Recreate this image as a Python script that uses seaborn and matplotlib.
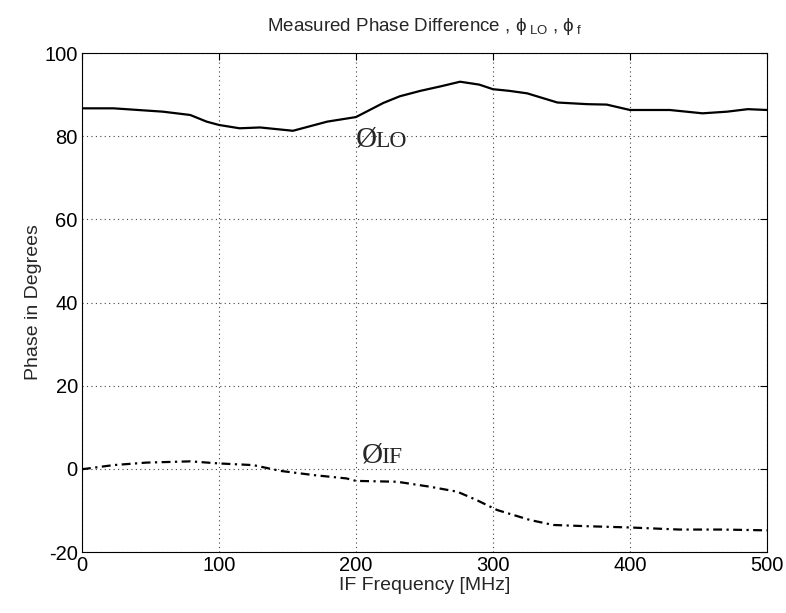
import numpy as np
import pandas as pd
import matplotlib
matplotlib.use("Agg")
import matplotlib.pyplot as plt
import seaborn as sns

freq_lo = [0, 23, 59, 79, 91, 100, 115, 130, 154, 179, 200, 220, 232, 247, 262, 276, 290, 300, 312, 325, 347, 369, 383, 400, 429, 453, 471, 486, 500]
phase_lo = [86.7, 86.7, 85.9, 85.1, 83.5, 82.7, 81.9, 82.1, 81.3, 83.5, 84.6, 88.0, 89.6, 90.9, 92.0, 93.1, 92.4, 91.3, 90.9, 90.3, 88.1, 87.7, 87.6, 86.3, 86.3, 85.5, 85.9, 86.5, 86.3]

freq_if = [0, 23, 47, 79, 100, 125, 145, 169, 193, 200, 230, 254, 274, 288, 303, 327, 344, 369, 400, 436, 466, 486, 500]
phase_if = [-0.1, 0.9, 1.5, 1.8, 1.3, 0.9, -0.5, -1.5, -2.3, -2.9, -3.1, -4.3, -5.5, -7.5, -9.9, -12.3, -13.5, -13.8, -14.1, -14.6, -14.6, -14.7, -14.8]

title_text = r"Measured Phase Difference , $\phi_{\ LO}$ , $\phi_{\ f}$"
xlabel_text = "IF Frequency [MHz]"
ylabel_text = "Phase in Degrees"
x_ticks = [0, 100, 200, 300, 400, 500]
y_ticks = [-20, 0, 20, 40, 60, 80, 100]

sns.set_style("white")
plt.rcParams["font.family"] = ["Liberation Sans", "DejaVu Sans"]
plt.rcParams["mathtext.fontset"] = "custom"
plt.rcParams["mathtext.rm"] = "Liberation Sans"
plt.rcParams["mathtext.it"] = "Liberation Sans"
plt.rcParams["axes.unicode_minus"] = False

fig = plt.figure(figsize=(7.86, 6.13), dpi=100)
ax = fig.add_axes([0.1043, 0.0995, 0.8715, 0.814])

df_lo = pd.DataFrame({"f": freq_lo, "p": phase_lo})
df_if = pd.DataFrame({"f": freq_if, "p": phase_if})
sns.lineplot(data=df_lo, x="f", y="p", ax=ax, color="black", linewidth=1.6)
sns.lineplot(data=df_if, x="f", y="p", ax=ax, color="black", linewidth=1.6, linestyle=(0, (4, 2, 1, 2)))

ax.set_xlim(0, 500)
ax.set_ylim(-20, 100)
ax.set_xticks(x_ticks)
ax.set_yticks(y_ticks)
ax.tick_params(direction="in", length=5, labelsize=14.5, top=True, right=True, colors="black", pad=3)
ax.grid(True, linestyle=(0, (1, 3)), color="#444444", linewidth=0.8)
for s in ax.spines.values():
    s.set_color("black")
    s.set_linewidth(0.8)
ax.set_xlabel(xlabel_text, fontsize=14, labelpad=1)
ax.set_ylabel(ylabel_text, fontsize=14, labelpad=2)
ax.set_title(title_text, fontsize=13.5, pad=16)

ax.text(200, 77.4, "Ø", fontsize=21, family="Liberation Serif", ha="left", va="baseline")
ax.text(214.5, 77.4, "LO", fontsize=17, family="Liberation Serif", ha="left", va="baseline")
ax.text(204, 1.5, "Ø", fontsize=21, family="Liberation Serif", ha="left", va="baseline")
ax.text(218.5, 1.5, "IF", fontsize=17, family="Liberation Serif", ha="left", va="baseline")

fig.savefig("out.png", dpi=100)
